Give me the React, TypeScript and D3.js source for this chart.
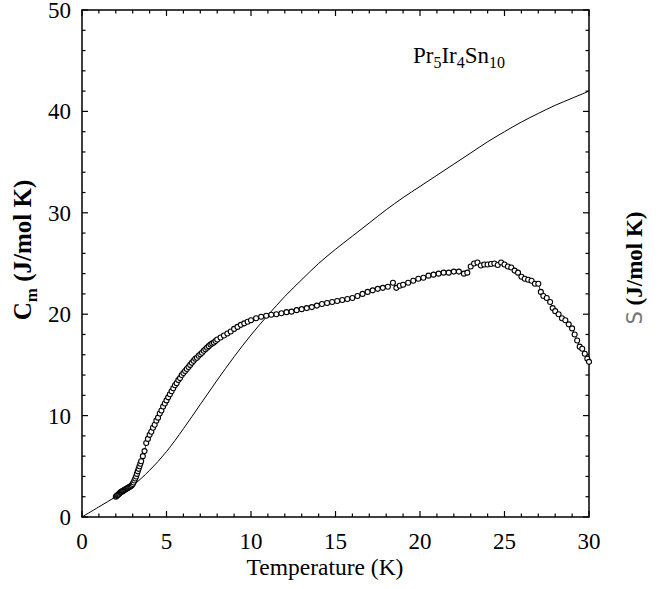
import React from "react";
import * as d3 from "d3";

const tempC = [
  2.0, 2.05, 2.1, 2.15, 2.2, 2.25, 2.3, 2.35, 2.4, 2.45, 2.5, 2.55, 2.6, 2.65, 2.7, 2.75, 2.8, 2.85, 2.9, 2.95,
  3.0, 3.05, 3.1, 3.15, 3.2, 3.25, 3.3, 3.35, 3.4, 3.45, 3.5, 3.6, 3.7, 3.8, 3.9,
  4.0, 4.1, 4.2, 4.3, 4.4, 4.5, 4.6, 4.7, 4.8, 4.9, 5.0, 5.1, 5.2, 5.3, 5.4, 5.5, 5.6, 5.7, 5.8, 5.9,
  6.0, 6.1, 6.2, 6.3, 6.4, 6.5, 6.6, 6.7, 6.8, 6.9, 7.0, 7.1, 7.2, 7.3, 7.4, 7.5, 7.6, 7.7, 7.8, 7.9,
  8.0, 8.2, 8.4, 8.6, 8.8, 9.0, 9.2, 9.4, 9.6, 9.8, 10.0, 10.3, 10.6, 10.9, 11.2, 11.5, 11.8, 12.1,
  12.4, 12.7, 13.0, 13.3, 13.6, 13.9, 14.2, 14.5, 14.8, 15.1, 15.4, 15.7, 16.0, 16.3, 16.6, 16.9,
  17.2, 17.5, 17.8, 18.1, 18.4, 18.6, 18.8, 19.0, 19.3, 19.6, 19.9, 20.2, 20.5, 20.8, 21.1, 21.4,
  21.7, 22.0, 22.3, 22.6, 22.8, 23.0, 23.2, 23.4, 23.6, 23.8, 24.0, 24.2, 24.4, 24.6, 24.8, 25.0,
  25.2, 25.4, 25.6, 25.8, 26.0, 26.2, 26.4, 26.6, 26.8, 27.0, 27.15, 27.3, 27.5, 27.7, 27.85, 28.0,
  28.2, 28.4, 28.6, 28.8, 29.0, 29.15, 29.3, 29.45, 29.6, 29.75, 29.9, 30.0,
];
const cm = [
  2.0, 2.08, 2.15, 2.22, 2.3, 2.38, 2.45, 2.5, 2.55, 2.6, 2.65, 2.7, 2.75, 2.8, 2.85, 2.9, 2.95, 3.0, 3.05, 3.12,
  3.25, 3.4, 3.6, 3.8, 4.0, 4.25, 4.5, 4.75, 5.0, 5.25, 5.5, 6.0, 6.5, 7.3, 7.7,
  8.1, 8.4, 8.8, 9.1, 9.5, 9.8, 10.2, 10.5, 10.9, 11.2, 11.5, 11.8, 12.1, 12.4, 12.7, 13.0, 13.2, 13.5, 13.7, 14.0,
  14.2, 14.4, 14.6, 14.8, 15.0, 15.2, 15.4, 15.6, 15.7, 15.9, 16.05, 16.2, 16.4, 16.55, 16.7, 16.85, 17.0, 17.1, 17.2, 17.35,
  17.5, 17.7, 17.9, 18.1, 18.3, 18.55, 18.75, 18.95, 19.1, 19.25, 19.4, 19.6, 19.75, 19.85, 19.95, 20.0, 20.1, 20.2,
  20.25, 20.4, 20.5, 20.6, 20.7, 20.85, 21.0, 21.1, 21.2, 21.3, 21.4, 21.5, 21.6, 21.8, 22.0, 22.2,
  22.35, 22.5, 22.6, 22.7, 23.1, 22.6, 22.8, 22.9, 23.1, 23.3, 23.5, 23.6, 23.8, 23.9, 24.0, 24.1,
  24.1, 24.2, 24.2, 24.0, 24.1, 24.7, 25.0, 25.1, 24.8, 24.9, 24.9, 24.95, 25.0, 24.85, 25.1, 24.9,
  24.7, 24.6, 24.3, 24.1, 23.7, 23.5, 23.4, 23.3, 23.0, 23.0, 22.2, 21.8, 21.6, 21.2, 20.6, 20.3,
  20.0, 19.6, 19.4, 19.0, 18.6, 18.0, 17.4, 16.8, 16.6, 16.1, 15.6, 15.3,
];

const tempS = [0, 1, 2, 3, 4, 5, 6, 7, 8, 9, 10, 11, 12, 13, 14, 15, 16, 17, 18, 19, 20, 21, 22, 23, 24, 25, 26, 27, 28, 29, 30];
const entropy = [0, 1.0, 2.0, 3.1, 4.6, 6.45, 8.7, 11.1, 13.5, 15.8, 17.95, 19.9, 21.75, 23.4, 25.0, 26.4, 27.7, 29.0, 30.3, 31.5, 32.6, 33.7, 34.8, 35.9, 37.0, 38.0, 38.95, 39.8, 40.6, 41.3, 42.0];

const xTicks = [0, 5, 10, 15, 20, 25, 30];
const yTicks = [0, 10, 20, 30, 40, 50];

const W = 664, H = 589;
const L = 82, R = 589, T = 10, B = 517;
const FONT = "'Liberation Serif', 'Times New Roman', serif";

export default function App() {
  const x = d3.scaleLinear().domain([0, 30]).range([L, R]);
  const y = d3.scaleLinear().domain([0, 50]).range([B, T]);

  const cPts: [number, number][] = tempC.map((t, i) => [t, cm[i]]);
  const sPts: [number, number][] = tempS.map((t, i) => [t, entropy[i]]);

  const sLine = d3.line<[number, number]>().x(d => x(d[0])).y(d => y(d[1])).curve(d3.curveCatmullRom);
  const cLine = d3.line<[number, number]>().x(d => x(d[0])).y(d => y(d[1]));

  const xMinor = d3.range(0, 31, 1);
  const yMinor = d3.range(0, 51, 2);

  return (
    <svg width={W} height={H} style={{ position: "absolute", left: 0, top: 0, background: "#fff" }} fontFamily={FONT}>
      {xMinor.map(v => {
        const major = v % 5 === 0;
        const len = major ? 6 : 3.5;
        return (
          <g key={"xt" + v} stroke="#000" strokeWidth={1.2}>
            <line x1={x(v)} x2={x(v)} y1={B} y2={B - len} />
            <line x1={x(v)} x2={x(v)} y1={T} y2={T + len} />
          </g>
        );
      })}
      {yMinor.map(v => {
        const major = v % 10 === 0;
        const len = major ? 6 : 3.5;
        return (
          <g key={"yt" + v} stroke="#000" strokeWidth={1.2}>
            <line x1={L} x2={L + len} y1={y(v)} y2={y(v)} />
            <line x1={R} x2={R - len} y1={y(v)} y2={y(v)} />
          </g>
        );
      })}
      <rect x={L} y={T} width={R - L} height={B - T} fill="none" stroke="#000" strokeWidth={1.5} />

      {xTicks.map(v => (
        <text key={"xl" + v} x={x(v)} y={549} textAnchor="middle" fontSize={23} fill="#000">{v}</text>
      ))}
      {yTicks.map(v => (
        <text key={"yl" + v} x={71} y={y(v) + 8} textAnchor="end" fontSize={23} fill="#000">{v}</text>
      ))}

      <path d={sLine(sPts) || ""} fill="none" stroke="#000" strokeWidth={1} />
      <path d={cLine(cPts) || ""} fill="none" stroke="#000" strokeWidth={0.8} />
      {cPts.map((d, i) => (
        <circle key={"c" + i} cx={x(d[0])} cy={y(d[1])} r={2.5} fill="#fff" stroke="#000" strokeWidth={1.1} />
      ))}

      <text x={413} y={63} fontSize={23} fill="#000">
        Pr<tspan dy={5} fontSize={16}>5</tspan>
        <tspan dy={-5}>Ir</tspan>
        <tspan dy={5} fontSize={16}>4</tspan>
        <tspan dy={-5}>Sn</tspan>
        <tspan dy={5} fontSize={16}>10</tspan>
      </text>

      <text x={325} y={575} textAnchor="middle" fontSize={23.5} fill="#000">Temperature (K)</text>

      <text transform="translate(31,250) rotate(-90)" textAnchor="middle" fontSize={25} fontWeight="bold" fill="#000">
        C<tspan dy={6} fontSize={17}>m</tspan>
        <tspan dy={-6}> (J/mol K)</tspan>
      </text>

      <text transform="translate(642,268) rotate(-90)" textAnchor="middle" fontSize={23} fontWeight="bold" fill="#000">
        <tspan fontFamily="'DejaVu Sans', sans-serif" fontWeight="normal" fill="#777" fontSize={21}>S</tspan>
        <tspan> (J/mol K)</tspan>
      </text>
    </svg>
  );
}
